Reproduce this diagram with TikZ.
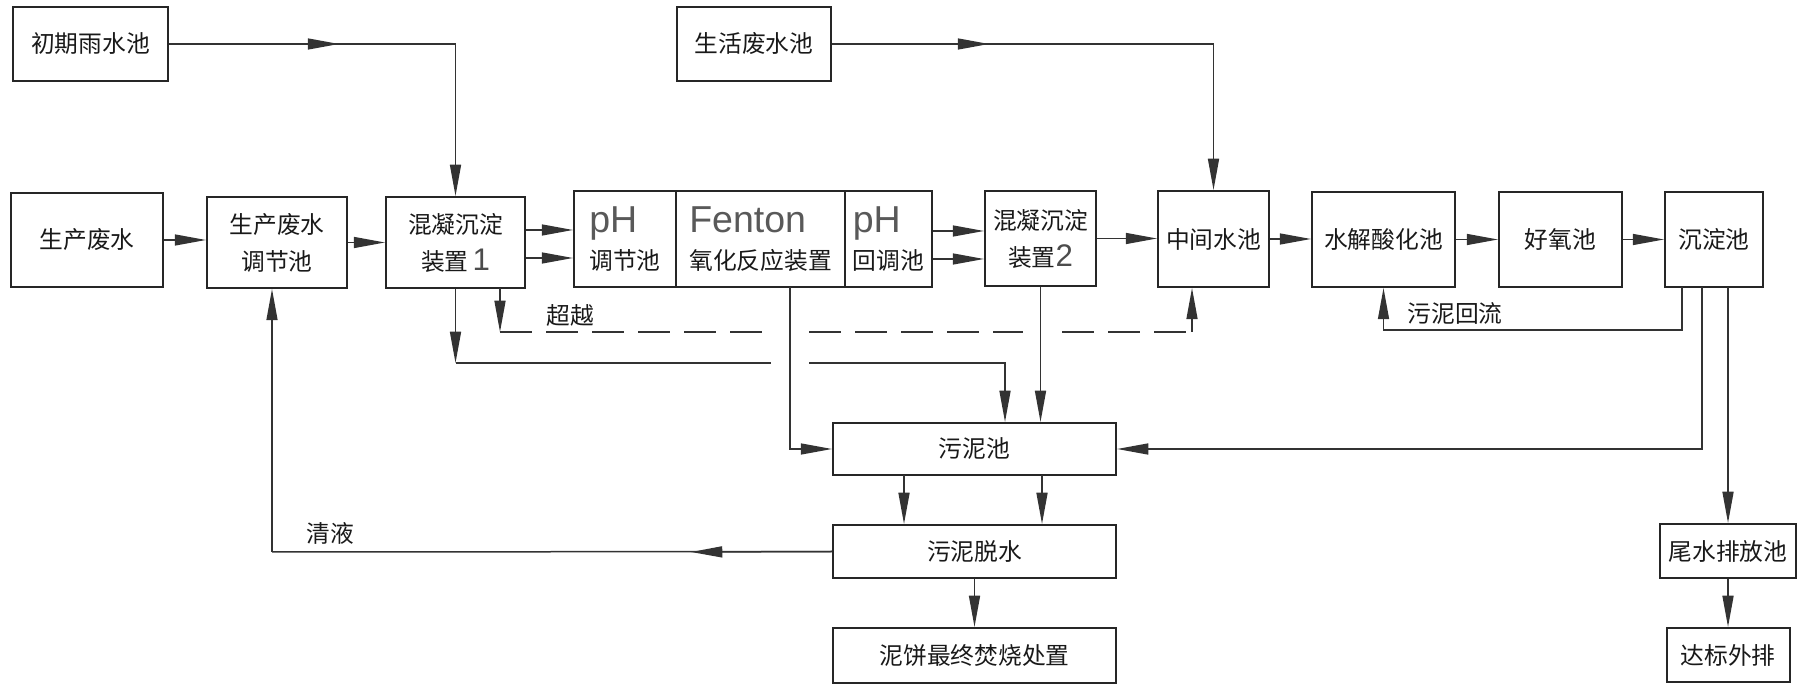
\documentclass[tikz,border=0pt]{standalone}
\usepackage{fontspec}
\setmainfont{Noto Sans CJK SC}
\newfontfamily\lat{Liberation Sans}
\usetikzlibrary{arrows.meta}
\newcommand{\biglat}[1]{{\lat\fontsize{15}{15}\selectfont\color{black!65}#1}}
\newcommand{\dig}[1]{{\lat\fontsize{12.5}{12}\selectfont\color{black!70}#1}}
\begin{document}
\begin{tikzpicture}[x=0.4pt,y=-0.4pt,
  box/.style={draw=black!85, line width=0.8pt, inner sep=0pt, align=center, text=black!90,
              font=\fontsize{9.5}{14.8}\selectfont},
  lbox/.style={box, align=left},
  bx/.style 2 args={minimum width=#1*0.4pt, minimum height=#2*0.4pt},
  ln/.style={draw=black!80, line width=0.6pt},
  arr/.style={ln, -{Triangle[length=12.5pt,width=4.4pt]}},
  dsh/.style={ln, dash pattern=on 12.8pt off 5.6pt},
  lbl/.style={inner sep=0pt, text=black!90, font=\fontsize{9.5}{12}\selectfont},
]
\useasboundingbox (0,0) rectangle (1798,684);

% ---- nodes ----
\node[box,bx={155}{74}] (chuqi) at (90.5,44) {初期雨水池};
\node[box,bx={154}{74}] (shws) at (754,44) {生活废水池};
\node[box,bx={152}{94}] (scfs) at (87,240) {生产废水};
\node[box,bx={140}{91}] (tjc) at (277,242.5) {生产废水\\调节池};
\node[box,bx={139}{91}] (hn1) at (455.5,242.5) {混凝沉淀\\装置\,\dig{1}};
\node[lbox,bx={102}{96}] (ph1) at (625,239) {\biglat{pH}\\调节池};
\node[lbox,bx={169}{96}] (fen) at (760.5,239) {\biglat{Fenton}\\氧化反应装置};
\node[lbox,bx={87}{96}] (ph2) at (888.5,239) {\biglat{pH}\\回调池};
\node[box,bx={111}{95}] (hn2) at (1040.5,238.5) {混凝沉淀\\装置\dig{2}};
\node[box,bx={111}{96}] (zj) at (1213.5,239) {中间水池};
\node[box,bx={143}{95}] (sj) at (1383.5,239.5) {水解酸化池};
\node[box,bx={123}{95}] (hy) at (1560.5,239.5) {好氧池};
\node[box,bx={98}{95}] (cd) at (1714,239.5) {沉淀池};
\node[box,bx={283}{52}] (wn) at (974.5,449) {污泥池};
\node[box,bx={283}{53}] (tuo) at (974.5,551.5) {污泥脱水};
\node[box,bx={283}{55}] (nb) at (974.5,655.5) {泥饼最终焚烧处置};
\node[box,bx={136}{54}] (ws) at (1728,551) {尾水排放池};
\node[box,bx={123}{54}] (db) at (1728,655) {达标外排};

\node[lbl] (lchaoyue) at (570,315) {超越};
\node[lbl] (lhuiliu) at (1455,313) {污泥回流};
\node[lbl] (lqingye) at (330,533) {清液};

% ---- routing points ----
\coordinate (m1) at (339,44);
\coordinate (m2) at (989,44);
\coordinate (c1) at (chuqi.east -| hn1.north);
\coordinate (c2) at (shws.east -| zj.north);
\coordinate (r1) at (1682,287);
\coordinate (r2) at (1682,330);
\coordinate (s1) at (1702,287);
\coordinate (s2) at (1728,287);
\coordinate (a1) at (455.5,363);
\coordinate (a2) at (771,363);
\coordinate (a3) at (809,363);
\coordinate (a4) at (1005,363);
\coordinate (b0) at (500,288);
\coordinate (b1) at (500,332);
\coordinate (b2) at (771,332);
\coordinate (b3) at (809,332);
\coordinate (b4) at (1023,332);
\coordinate (b5) at (1062,332);
\coordinate (b6) at (1192,332);
\coordinate (f0) at (790,287);
\coordinate (w1) at (904,475);
\coordinate (w2) at (1042,475);
\coordinate (q1) at (272,552);
\coordinate (q2) at (691,552);

% ---- connectors ----
\draw[ln] (chuqi.east) -- (c1);
\draw[arr] (chuqi.east) -- (m1);
\draw[arr] (c1) -- (hn1.north);
\draw[ln] (shws.east) -- (c2);
\draw[arr] (shws.east) -- (m2);
\draw[arr] (c2) -- (zj.north);

\draw[arr] (scfs.east) -- (scfs.east -| tjc.west);
\draw[arr] (tjc.east) -- (tjc.east -| hn1.west);
\draw[arr] ([yshift=5pt]hn1.east) -- ([yshift=5pt]hn1.east -| ph1.west);
\draw[arr] ([yshift=-6.2pt]hn1.east) -- ([yshift=-6.2pt]hn1.east -| ph1.west);
\draw[arr] ([yshift=3.2pt]ph2.east) -- ([yshift=3.2pt]ph2.east -| hn2.west);
\draw[arr] ([yshift=-8pt]ph2.east) -- ([yshift=-8pt]ph2.east -| hn2.west);
\draw[arr] (hn2.east) -- (hn2.east -| zj.west);
\draw[arr] (zj.east) -- (zj.east -| sj.west);
\draw[arr] (sj.east) -- (sj.east -| hy.west);
\draw[arr] (hy.east) -- (hy.east -| cd.west);

% sludge return
\draw[arr] (r1) -- (r2) -- (r2 -| sj.south) -- (sj.south);
\draw[arr] (s1) |- (wn.east);
\draw[arr] (s2) -- (s2 |- ws.north);
\draw[arr] (ws.south) -- (db.north);

% from coagulation 1 to sludge tank
\draw[arr] (hn1.south) -- (a1);
\draw[ln] (a1) -- (a2);
\draw[arr] (a3) -- (a4) -- (a4 |- wn.north);

% bypass (dashed)
\draw[arr] (b0) -- (b1);
\draw[dsh] (b1) -- (b2);
\draw[dsh] (b3) -- (b4);
\draw[dsh] (b5) -- (b6);
\draw[arr] (b6) -- (b6 |- zj.south);

% Fenton sludge
\draw[arr] (f0) |- (wn.west);
\draw[arr] (hn2.south) -- (hn2.south |- wn.north);

% sludge tank to dewatering
\draw[arr] (w1) -- (w1 |- tuo.north);
\draw[arr] (w2) -- (w2 |- tuo.north);
\draw[arr] (tuo.south) -- (nb.north);

% clear liquid back
\draw[ln] (tuo.west) -- (q1);
\draw[arr] (tuo.west) -- (q2);
\draw[arr] (q1) -- (q1 |- tjc.south);
\end{tikzpicture}
\end{document}
